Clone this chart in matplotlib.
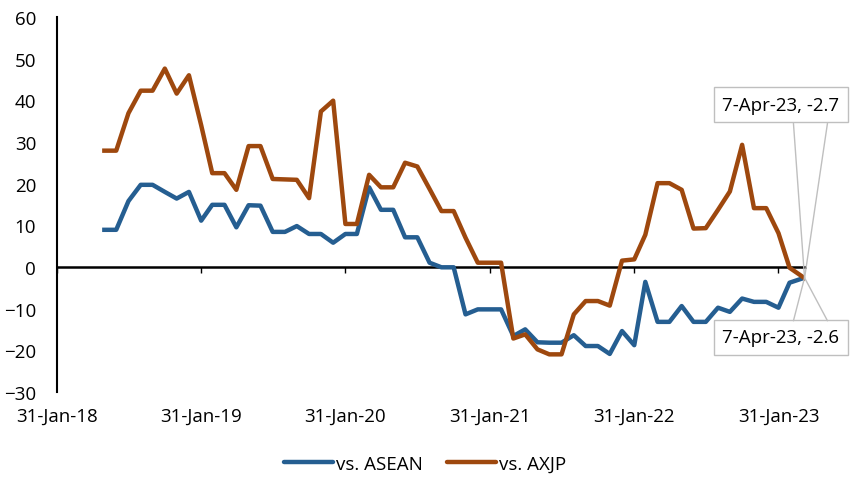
import matplotlib
matplotlib.use("Agg")
import matplotlib.pyplot as plt
import numpy as np
import pandas as pd

plt.rcParams['font.family'] = ['Open Sans', 'DejaVu Sans']

# month-end observations, May-18 .. Feb-23, then the latest weekly reading
dates = list(pd.date_range('2018-05-31', '2023-02-28', freq='ME')) + [pd.Timestamp('2023-04-07')]

vs_asean = [8.9, 8.9, 15.8, 19.7, 19.7, 18.0, 16.4, 18.0, 11.1, 14.9,
            14.9, 9.5, 14.8, 14.7, 8.4, 8.4, 9.8, 7.9, 7.9, 5.8,
            7.9, 7.9, 19.1, 13.7, 13.7, 7.1, 7.1, 1.0, -0.1, -0.1,
            -11.4, -10.2, -10.2, -10.2, -16.6, -15.0, -18.1, -18.2, -18.2, -16.4,
            -19.0, -19.0, -20.9, -15.4, -18.8, -3.6, -13.2, -13.2, -9.4, -13.2,
            -13.2, -9.8, -10.8, -7.6, -8.4, -8.4, -9.8, -3.8, -2.6]

vs_axjp = [27.9, 27.9, 36.9, 42.3, 42.3, 47.6, 41.6, 46.0, 34.0, 22.5,
           22.5, 18.5, 29.0, 29.0, 21.1, 21.0, 20.9, 16.5, 37.3, 39.9,
           10.3, 10.3, 22.1, 19.1, 19.1, 25.0, 24.1, 18.7, 13.4, 13.4,
           7.0, 1.0, 1.0, 1.0, -17.2, -16.2, -19.8, -21.0, -21.0, -11.4,
           -8.2, -8.2, -9.3, 1.5, 1.8, 7.7, 20.1, 20.1, 18.5, 9.2,
           9.3, 13.7, 18.1, 29.3, 14.1, 14.1, 8.1, -0.2, -2.7]

tick_dates = pd.to_datetime(['2018-01-31', '2019-01-31', '2020-01-31',
                             '2021-01-31', '2022-01-31', '2023-01-31'])
tick_labels = ['31-Jan-18', '31-Jan-19', '31-Jan-20', '31-Jan-21', '31-Jan-22', '31-Jan-23']

blue = '#255E91'
orange = '#9E480E'
fs = 13.5

fig = plt.figure(figsize=(8.5, 4.85), dpi=100)
ax = fig.add_axes([0.067, 0.19, 0.88, 0.773])

ax.plot(dates, vs_asean, color=blue, lw=3.2, label='vs. ASEAN', solid_joinstyle='round')
ax.plot(dates, vs_axjp, color=orange, lw=3.2, label='vs. AXJP', solid_joinstyle='round')

ax.set_ylim(-30, 60)
ax.set_yticks(np.arange(-30, 61, 10))
ax.set_xlim(pd.Timestamp('2018-01-31'), pd.Timestamp('2023-04-08'))
ax.set_xticks(tick_dates)
ax.set_xticklabels(tick_labels)

for s in ['top', 'right', 'bottom']:
    ax.spines[s].set_visible(False)
ax.spines['left'].set_linewidth(1.5)
ax.tick_params(axis='y', length=0, pad=15, labelsize=fs)
ax.tick_params(axis='x', length=0, pad=11, labelsize=fs)

# zero line with the date ticks
sec = ax.secondary_xaxis(30 / 90)
sec.set_xticks(tick_dates)
sec.set_xticklabels([])
sec.spines['bottom'].set_linewidth(1.8)
sec.tick_params(axis='x', length=4, width=1, direction='out')

# data labels on the last point
last = dates[-1]
box = dict(boxstyle='square,pad=0.45', fc='white', ec='#BFBFBF', lw=1)
ax.annotate(f"7-Apr-23, {vs_axjp[-1]:.1f}", xy=(last, vs_axjp[-1]), xytext=(-17, 125),
            textcoords='offset points', ha='center', va='center', fontsize=fs, bbox=box)
ax.annotate(f"7-Apr-23, {vs_asean[-1]:.1f}", xy=(last, vs_asean[-1]), xytext=(-17, -43),
            textcoords='offset points', ha='center', va='center', fontsize=fs, bbox=box)
for yv, dy in [(vs_axjp[-1], 111.5), (vs_asean[-1], -31)]:
    for dx in (-8, 16.5):
        ax.annotate('', xy=(last, yv), xytext=(dx, dy), textcoords='offset points',
                    arrowprops=dict(arrowstyle='-', color='#BFBFBF', lw=1,
                                    shrinkA=0, shrinkB=0))

leg = fig.legend(loc='lower center', bbox_to_anchor=(0.5, -0.012), ncol=2, frameon=False,
                 fontsize=fs, handlelength=2.6, handletextpad=0.15, columnspacing=1.3)
for h in leg.get_lines():
    h.set_linewidth(3.2)
    h.set_solid_capstyle('round')

fig.savefig('out.png', dpi=100)
